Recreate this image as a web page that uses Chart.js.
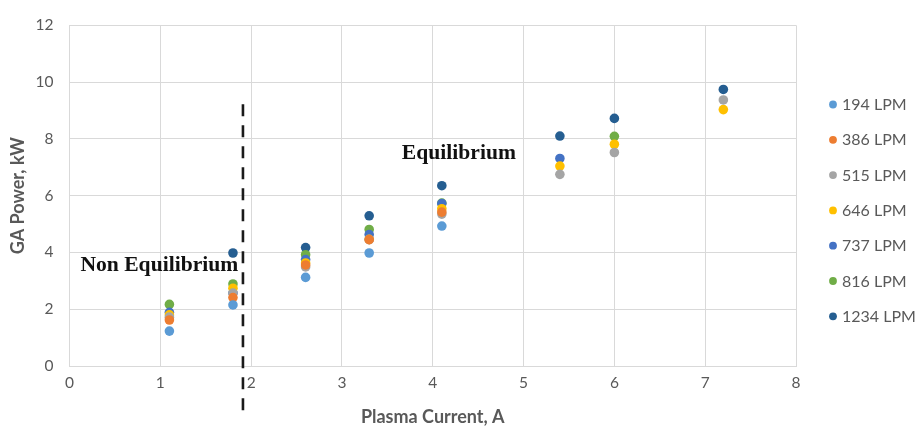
<!DOCTYPE html>
<html>
<head>
<meta charset="utf-8">
<title>GA Power vs Plasma Current</title>
<script src="https://cdn.jsdelivr.net/npm/chart.js@4.4.1/dist/chart.umd.min.js"></script>
<style>
  html, body { margin: 0; padding: 0; background: #fff; }
  #wrap { width: 920px; height: 429px; position: relative; }
</style>
</head>
<body>
<div id="wrap"><canvas id="powerChart"></canvas></div>
<script>
// plasma current (A) for each measurement column
const currents = [1.1, 1.8, 2.6, 3.3, 4.1, 5.4, 6.0, 7.2];

// GA power (kW) per gas flow rate, null where no point was taken
const lpm194  = [1.23, 2.15, 3.12, 3.98, 4.93, null, null, null];
const lpm386  = [1.62, 2.41, 3.56, 4.45, 5.42, null, null, null];
const lpm515  = [1.72, 2.57, 3.49, 4.45, 5.35, 6.75, 7.52, 9.37];
const lpm646  = [1.80, 2.74, 3.63, 4.46, 5.54, 7.04, 7.81, 9.03];
const lpm737  = [1.89, 2.57, 3.75, 4.63, 5.72, 7.31, null, null];
const lpm816  = [2.17, 2.89, 3.92, 4.81, 5.74, null, 8.09, null];
const lpm1234 = [null, 3.98, 4.17, 5.29, 6.35, 8.10, 8.72, 9.74];

const seriesLabels = ['194 LPM', '386 LPM', '515 LPM', '646 LPM', '737 LPM', '816 LPM', '1234 LPM'];
const seriesValues = [lpm194, lpm386, lpm515, lpm646, lpm737, lpm816, lpm1234];
const seriesColors = ['#5B9BD5', '#ED7D31', '#A5A5A5', '#FFC000', '#4472C4', '#70AD47', '#255E91'];

// boundary between the two regimes (dashed vertical line)
const boundaryX = 1.91;
const boundaryTop = 9.22;
const boundaryBottom = -1.85;

const yTicks = [0, 2, 4, 6, 8, 10, 12];
const xTicks = [0, 1, 2, 3, 4, 5, 6, 7, 8];

const txtGrey = '#595959';
const gridGrey = '#d9d9d9';

const datasets = seriesValues.map((vals, i) => ({
  label: seriesLabels[i],
  data: currents.map((c, j) => ({ x: c, y: vals[j] })),
  backgroundColor: seriesColors[i],
  borderColor: seriesColors[i],
  pointRadius: 4.8,
  pointBorderWidth: 0,
  showLine: false
}));

datasets.push({
  label: 'boundary',
  data: [{ x: boundaryX, y: boundaryTop }, { x: boundaryX, y: boundaryBottom }],
  showLine: true,
  borderColor: '#1a1a1a',
  borderWidth: 2.6,
  borderDash: [12, 9],
  pointRadius: 0,
  clip: false
});

// region labels written inside the plot
const regionLabels = [
  { text: 'Non Equilibrium', x: 0.12, y: 3.53 },
  { text: 'Equilibrium', x: 3.66, y: 7.47 }
];

const regionTextPlugin = {
  id: 'regionText',
  afterDatasetsDraw(chart) {
    const { ctx, scales } = chart;
    ctx.save();
    ctx.font = 'bold 20px "Liberation Serif", "Times New Roman", serif';
    ctx.fillStyle = '#111';
    ctx.textBaseline = 'middle';
    ctx.textAlign = 'left';
    regionLabels.forEach(l => {
      const px = scales.x.getPixelForValue(l.x);
      const py = scales.y.getPixelForValue(l.y);
      ctx.save();
      ctx.translate(px, py);
      ctx.scale(1.08, 1);
      ctx.fillText(l.text, 0, 0);
      ctx.restore();
    });
    ctx.restore();
  }
};

// legend column on the right, one dot + label per flow rate
const sideLegendPlugin = {
  id: 'sideLegend',
  afterDraw(chart) {
    const { ctx } = chart;
    ctx.save();
    ctx.font = '16px Lato, "Open Sans", sans-serif';
    ctx.textBaseline = 'middle';
    ctx.textAlign = 'left';
    seriesLabels.forEach((lab, i) => {
      const y = 104.5 + i * 35.3;
      ctx.beginPath();
      ctx.fillStyle = seriesColors[i];
      ctx.arc(833, y, 3.9, 0, Math.PI * 2);
      ctx.fill();
      ctx.fillStyle = txtGrey;
      ctx.fillText(lab, 842, y + 0.5);
    });
    ctx.restore();
  }
};

new Chart(document.getElementById('powerChart'), {
  type: 'scatter',
  data: { datasets: datasets },
  options: {
    responsive: true,
    maintainAspectRatio: false,
    animation: false,
    events: [],
    layout: { padding: { left: 5, top: 16, right: 124, bottom: 0 } },
    plugins: {
      legend: { display: false },
      tooltip: { enabled: false }
    },
    scales: {
      x: {
        type: 'linear',
        min: 0,
        max: 8,
        afterBuildTicks: s => { s.ticks = xTicks.map(v => ({ value: v })); },
        afterFit: s => { s.height = 63; },
        grid: { color: gridGrey, drawTicks: false },
        border: { color: gridGrey },
        ticks: { color: txtGrey, padding: 8, font: { family: 'Lato', size: 15.5 } },
        title: {
          display: true,
          text: 'Plasma Current, A',
          color: txtGrey,
          font: { family: 'Lato', size: 18, weight: 'bold' },
          padding: { top: 0, bottom: 1.2 }
        }
      },
      y: {
        type: 'linear',
        min: 0,
        max: 12,
        afterBuildTicks: s => { s.ticks = yTicks.map(v => ({ value: v })); },
        afterFit: s => { s.width = 64.5; },
        grid: { color: gridGrey, drawTicks: false },
        border: { color: gridGrey },
        ticks: { color: txtGrey, padding: 16, font: { family: 'Lato', size: 15.5 } },
        title: {
          display: true,
          text: 'GA Power, kW',
          color: txtGrey,
          font: { family: 'Lato', size: 18, weight: 'bold' },
          padding: { top: 2.2, bottom: 0 }
        }
      }
    }
  },
  plugins: [regionTextPlugin, sideLegendPlugin]
});
</script>
</body>
</html>
